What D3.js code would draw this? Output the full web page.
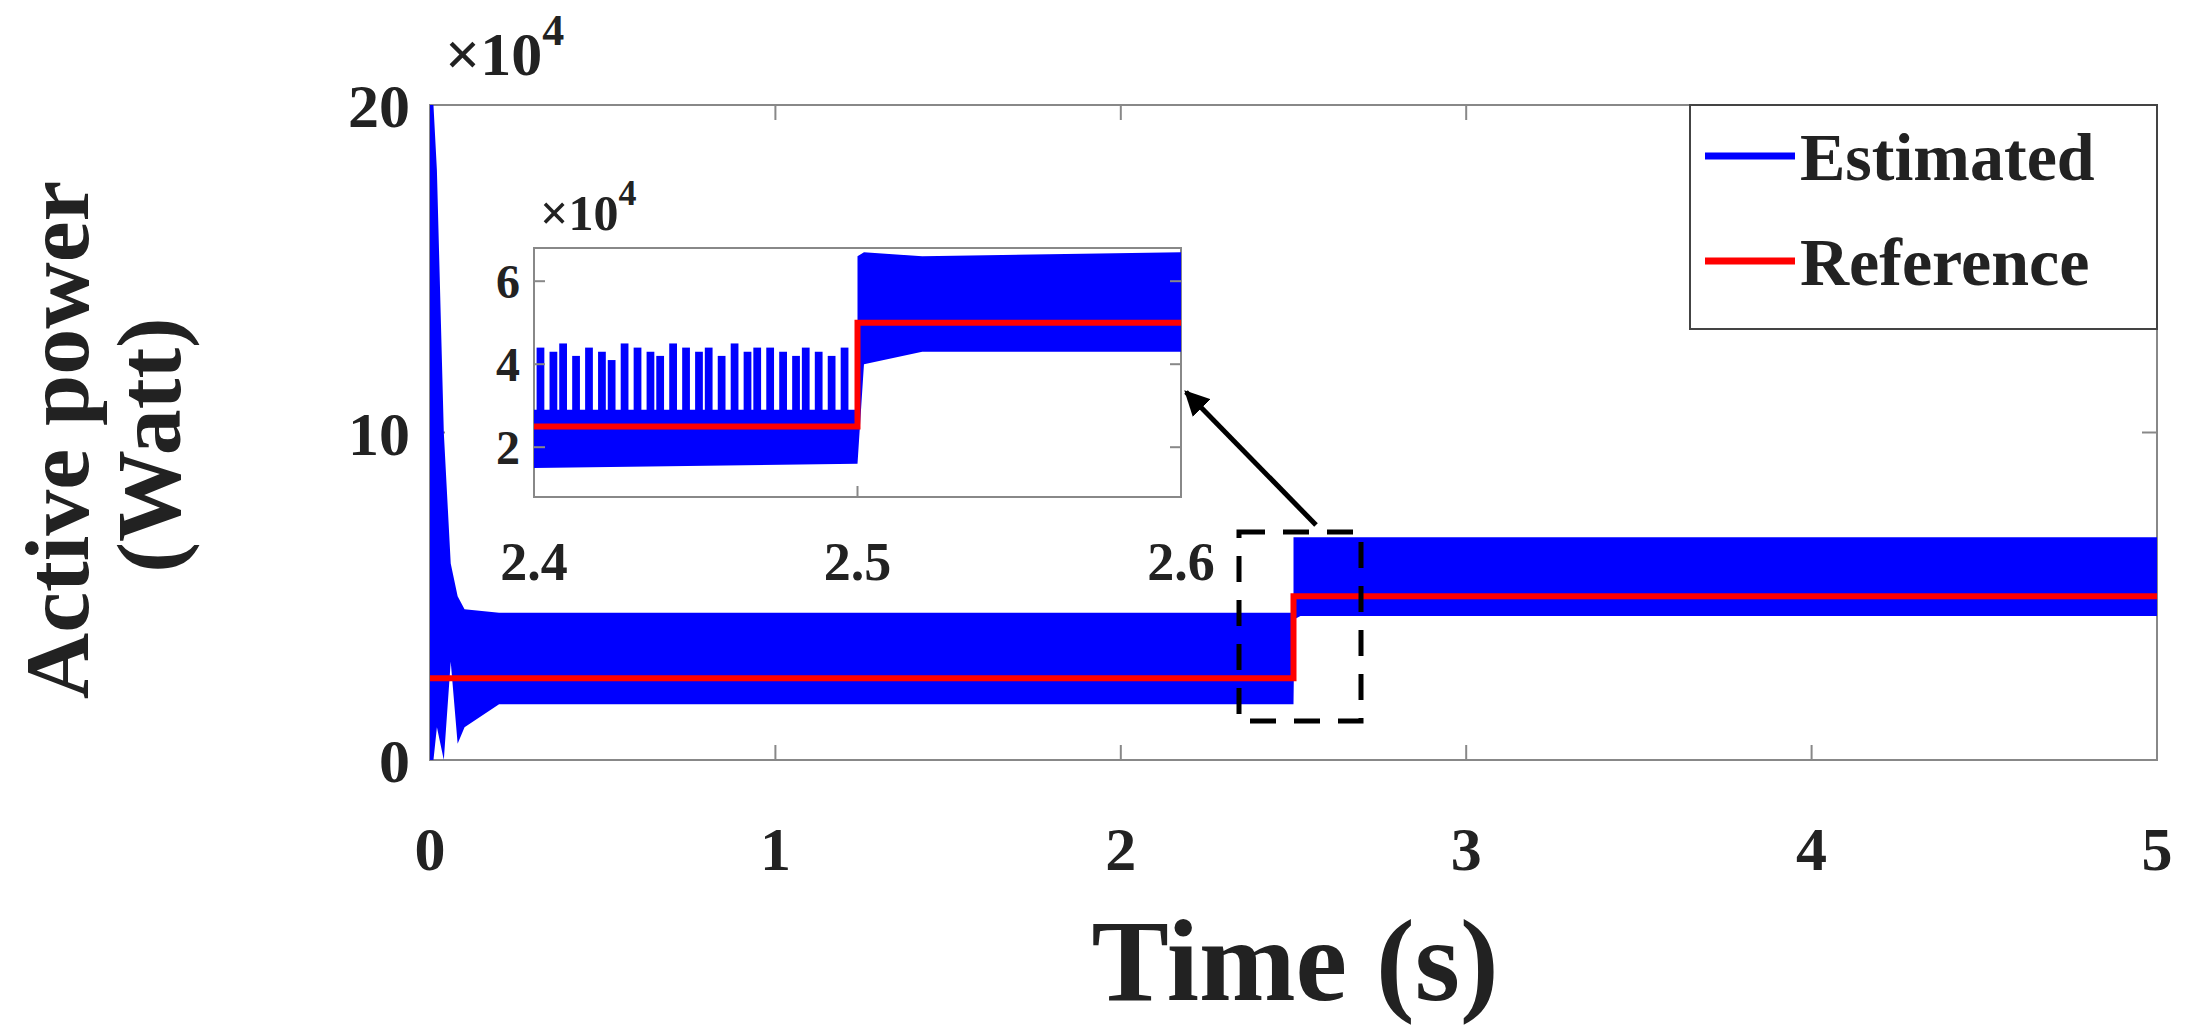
<!DOCTYPE html>
<html><head><meta charset="utf-8">
<script src="https://cdn.jsdelivr.net/npm/d3@7"></script>
<style>body{margin:0;background:#fff}text{font-family:"Liberation Serif",serif;font-weight:bold;fill:#222}</style>
</head><body><svg width="2196" height="1032"></svg>
<script>
// main plot, values in 1e4 W
var xTicks = [0,1,2,3,4,5];
var yTicks = [0,10,20];
var envT = [0, 0.01, 0.02, 0.04, 0.06, 0.08, 0.1, 0.2, 2.5, 2.5, 2.503, 2.52, 5];
var envLo = [0, 0, 1.0, 0, 3.0, 0.5, 1.0, 1.7, 1.7, 1.7, 4.3, 4.4, 4.4];
var envHi = [20, 20, 18, 10, 6, 5, 4.6, 4.5, 4.5, 6.8, 6.8, 6.8, 6.8];
var refT = [0, 2.5, 2.5, 5];
var refV = [2.5, 2.5, 5, 5];
// inset
var inT = [2.4, 2.5, 2.6];
var inY = [2, 4, 6];
var spikeT = [2.402,2.406,2.409,2.413,2.417,2.421,2.424,2.428,2.432,2.436,2.439,2.443,2.447,2.451,2.454,2.458,2.462,2.466,2.469,2.473,2.477,2.481,2.484,2.488,2.492,2.496];
var spikeV = [4.4,4.3,4.5,4.2,4.4,4.3,4.1,4.5,4.4,4.3,4.2,4.5,4.4,4.3,4.4,4.2,4.5,4.3,4.4,4.4,4.3,4.2,4.4,4.3,4.2,4.4];
var inLoT = [2.4, 2.5, 2.5, 2.502, 2.52, 2.6];
var inLo = [1.5, 1.6, 1.6, 4.0, 4.3, 4.3];
var inBaseHi = [2.9, 2.9, 6.6, 6.7, 6.6, 6.7];

var svg = d3.select('svg');
var blue = '#0000ff', red = '#ff0000';
var x = d3.scaleLinear().domain([0,5]).range([430,2157]);
var y = d3.scaleLinear().domain([0,20]).range([760,105]);

// frame + ticks
svg.append('rect').attr('x',430).attr('y',105).attr('width',1727).attr('height',655)
  .attr('fill','none').attr('stroke','#888').attr('stroke-width',2);
xTicks.forEach(function(t){
  svg.append('line').attr('x1',x(t)).attr('x2',x(t)).attr('y1',760).attr('y2',745).attr('stroke','#888').attr('stroke-width',2);
  svg.append('line').attr('x1',x(t)).attr('x2',x(t)).attr('y1',105).attr('y2',120).attr('stroke','#888').attr('stroke-width',2);
  svg.append('text').attr('x',x(t)).attr('y',870).attr('text-anchor','middle').attr('font-size',62).text(t);
});
yTicks.forEach(function(t){
  svg.append('line').attr('x1',430).attr('x2',445).attr('y1',y(t)).attr('y2',y(t)).attr('stroke','#888').attr('stroke-width',2);
  svg.append('line').attr('x1',2157).attr('x2',2142).attr('y1',y(t)).attr('y2',y(t)).attr('stroke','#888').attr('stroke-width',2);
  svg.append('text').attr('x',410).attr('y',y(t)+22).attr('text-anchor','end').attr('font-size',62).text(t);
});
var ex = svg.append('text').attr('x',445).attr('y',75).attr('font-size',62).attr('font-weight','normal');
ex.append('tspan').text('×10');
ex.append('tspan').attr('dy',-30).attr('font-size',44).text('4');

var env = envT.map(function(t,i){return {t:t,lo:envLo[i],hi:envHi[i]};});
svg.append('path').datum(env).attr('fill',blue)
  .attr('d',d3.area().x(function(d){return x(d.t);}).y0(function(d){return y(d.lo);}).y1(function(d){return y(d.hi);}));
var ref = refT.map(function(t,i){return [t,refV[i]];});
svg.append('path').datum(ref).attr('fill','none').attr('stroke',red).attr('stroke-width',6)
  .attr('d',d3.line().x(function(d){return x(d[0]);}).y(function(d){return y(d[1]);}));

// inset
var xi = d3.scaleLinear().domain([2.4,2.6]).range([534,1181]);
var yi = d3.scaleLinear().domain([0.8,6.8]).range([497,248]);
svg.append('rect').attr('x',534).attr('y',248).attr('width',647).attr('height',249).attr('fill','#fff').attr('stroke','#888').attr('stroke-width',2);
var inEnv = inLoT.map(function(t,i){return {t:t,lo:inLo[i],hi:inBaseHi[i]};});
svg.append('path').datum(inEnv).attr('fill',blue)
  .attr('d',d3.area().x(function(d){return xi(d.t);}).y0(function(d){return yi(d.lo);}).y1(function(d){return yi(d.hi);}));
svg.selectAll('.spk').data(spikeT).enter().append('path').attr('fill',blue)
  .attr('d',function(t,i){var a=xi(t-0.0012),b=xi(t+0.0012);return 'M'+a+','+yi(2.8)+'L'+a+','+yi(spikeV[i])+'L'+b+','+yi(spikeV[i])+'L'+b+','+yi(2.8)+'Z';});
svg.append('path').datum(ref.filter(function(d){return d[0]<=2.6;}).concat([[2.6,5]])).attr('fill','none').attr('stroke',red).attr('stroke-width',6)
  .attr('d',d3.line().x(function(d){return xi(Math.max(2.4,d[0]));}).y(function(d){return yi(d[1]);}));
inT.forEach(function(t){
  svg.append('line').attr('x1',xi(t)).attr('x2',xi(t)).attr('y1',497).attr('y2',486).attr('stroke','#888').attr('stroke-width',2);
  svg.append('text').attr('x',xi(t)).attr('y',580).attr('text-anchor','middle').attr('font-size',54).text(t.toFixed(1));
});
inY.forEach(function(t){
  svg.append('line').attr('x1',534).attr('x2',545).attr('y1',yi(t)).attr('y2',yi(t)).attr('stroke','#888').attr('stroke-width',2);
  svg.append('line').attr('x1',1181).attr('x2',1170).attr('y1',yi(t)).attr('y2',yi(t)).attr('stroke','#888').attr('stroke-width',2);
  svg.append('text').attr('x',520).attr('y',yi(t)+17).attr('text-anchor','end').attr('font-size',48).text(t);
});
var ex2 = svg.append('text').attr('x',540).attr('y',230).attr('font-size',50).attr('font-weight','normal');
ex2.append('tspan').text('×10');
ex2.append('tspan').attr('dy',-25).attr('font-size',36).text('4');

// dashed box + arrow
svg.append('rect').attr('x',1239).attr('y',532).attr('width',122).attr('height',189).attr('fill','none')
  .attr('stroke','#000').attr('stroke-width',5).attr('stroke-dasharray','26,18');
svg.append('defs').append('marker').attr('id','ah').attr('viewBox','0 0 10 10').attr('refX',9).attr('refY',5)
  .attr('markerWidth',5).attr('markerHeight',5).attr('orient','auto')
  .append('path').attr('d','M0,0L10,5L0,10Z').attr('fill','#000');
svg.append('line').attr('x1',1316).attr('y1',525).attr('x2',1186).attr('y2',392).attr('stroke','#000').attr('stroke-width',5).attr('marker-end','url(#ah)');

// legend
svg.append('rect').attr('x',1690).attr('y',105).attr('width',467).attr('height',224).attr('fill','#fff').attr('stroke','#444').attr('stroke-width',2);
[['Estimated',blue,180],['Reference',red,285]].forEach(function(l){
  svg.append('line').attr('x1',1705).attr('x2',1795).attr('y1',l[2]-24).attr('y2',l[2]-24).attr('stroke',l[1]).attr('stroke-width',7);
  svg.append('text').attr('x',1800).attr('y',l[2]).attr('font-size',68).text(l[0]);
});

// axis labels
svg.append('text').attr('x',1295).attr('y',1000).attr('text-anchor','middle').attr('font-size',116).text('Time (s)');
svg.append('text').attr('transform','translate(88,440) rotate(-90)').attr('text-anchor','middle').attr('font-size',92).text('Active power');
svg.append('text').attr('transform','translate(180,445) rotate(-90)').attr('text-anchor','middle').attr('font-size',92).text('(Watt)');
</script></body></html>
